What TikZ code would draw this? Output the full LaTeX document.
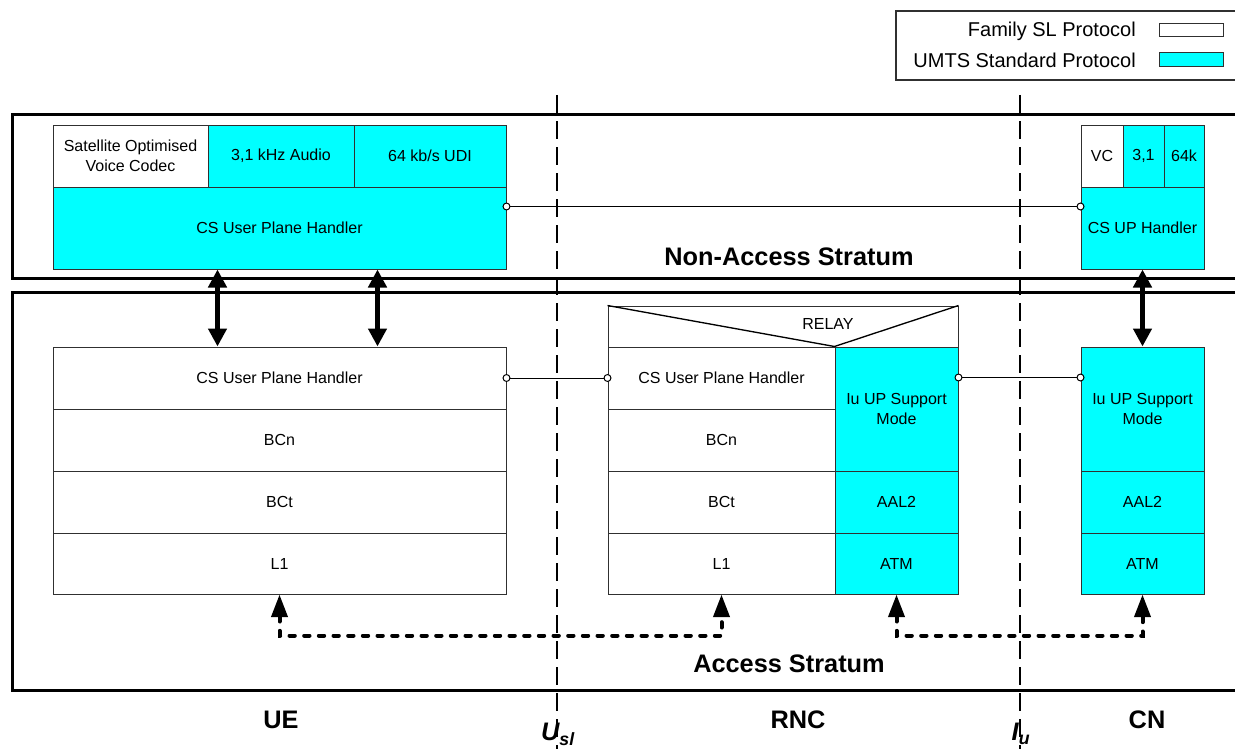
\documentclass[tikz,border=0pt]{standalone}
\usepackage{fontspec}
\setmainfont{Liberation Sans}
\usetikzlibrary{arrows.meta,calc}
\definecolor{umts}{HTML}{00FFFF}
\definecolor{edge}{HTML}{303030}
\newcommand\cell[7]{\node[cellbase,#6,minimum width={(#4-#2)*0.75pt},minimum height={(#5-#3)*0.75pt}] (#1) at ({(#2+#4)/2},{(#3+#5)/2}) {#7};}
\begin{document}
\begin{tikzpicture}[x=0.75pt,y=-0.75pt,
  cellbase/.style={draw=edge,line width=0.75pt,inner sep=0pt,align=center,font=\fontsize{12}{15}\selectfont},
  sl/.style={fill=white},
  std/.style={fill=umts},
  labeltext/.style={inner sep=0pt,font=\fontsize{12}{15}\selectfont},
  legendtext/.style={inner sep=0pt,font=\fontsize{15}{18}\selectfont},
  stratumtext/.style={inner sep=0pt,font=\fontsize{19}{22}\selectfont\bfseries},
  sitetext/.style={inner sep=0pt,font=\fontsize{19}{22}\selectfont\bfseries},
  ifacetext/.style={inner sep=0pt,font=\fontsize{19}{22}\selectfont\bfseries\itshape},
  stratum/.style={draw=black,line width=2.25pt},
  legendbox/.style={draw=edge,line width=0.9pt},
  divider/.style={draw=black,line width=1.5pt,dash pattern=on 13.5pt off 6pt},
  edgeline/.style={draw=black,line width=1pt},
  conn/.style={draw=black,line width=0.75pt},
  port/.style={draw=black,fill=white,line width=0.75pt},
  bigarrow/.style={draw=black,line width=4pt,{Triangle[length=13.5pt,width=13.5pt]}-{Triangle[length=13.5pt,width=13.5pt]}},
  dotarrow/.style={draw=black,line width=3pt,line cap=round,dash pattern=on 4pt off 7pt,{Triangle[length=17pt,width=12pt]}-{Triangle[length=17pt,width=12pt]}}
]
\useasboundingbox (0,0) rectangle (1235,749);
\clip (0,0) rectangle (1235,749);
\fill[white] (0,0) rectangle (1235,749);

% interface dividers
\coordinate (d1t) at (557,95); \coordinate (d1b) at (557,752);
\coordinate (d2t) at (1020,95); \coordinate (d2b) at (1020,752);
\draw[divider] (d1t) -- (d1b);
\draw[divider] (d2t) -- (d2b);

% strata
\draw[stratum] (12,114) rectangle (1260,278);
\draw[stratum] (12,292) rectangle (1260,690);

% legend
\draw[legendbox] (896,11) rectangle (1260,80);
\cell{lgsl}{1159}{24}{1223}{37}{sl}{}
\cell{lgstd}{1159}{53}{1223}{67}{std}{}
\node[legendtext,anchor=east] (lgsltxt) at (1136,31) {Family SL Protocol};
\node[legendtext,anchor=east] (lgstdtxt) at (1136,60) {UMTS Standard Protocol};

% UE non-access stratum
\cell{ueVC}{53}{125}{208}{187}{sl}{Satellite Optimised\\Voice Codec}
\cell{ueAud}{208}{125}{354}{187}{std}{3,1 kHz Audio}
\cell{ueUDI}{354}{125}{506}{187}{std}{64 kb/s UDI}
\cell{ueCSu}{53}{187}{506}{269}{std}{CS User Plane Handler}

% CN non-access stratum
\cell{cnVC}{1081}{125}{1123}{187}{sl}{VC}
\cell{cnAud}{1123}{125}{1164}{187}{std}{3,1}
\cell{cnUDI}{1164}{125}{1204}{187}{std}{64k}
\cell{cnCSu}{1081}{187}{1204}{269}{std}{CS UP Handler}

% UE access stratum
\cell{ueCS}{53}{347}{506}{409}{sl}{CS User Plane Handler}
\cell{ueBCn}{53}{409}{506}{471}{sl}{BCn}
\cell{ueBCt}{53}{471}{506}{533}{sl}{BCt}
\cell{ueL1}{53}{533}{506}{594}{sl}{L1}

% RNC
\cell{relay}{608}{306}{958}{347}{sl}{}
\node[labeltext] (relaytxt) at (828,324) {RELAY};
\cell{rncCS}{608}{347}{835}{409}{sl}{CS User Plane Handler}
\cell{rncBCn}{608}{409}{835}{471}{sl}{BCn}
\cell{rncBCt}{608}{471}{835}{533}{sl}{BCt}
\cell{rncL1}{608}{533}{835}{594}{sl}{L1}
\cell{rncIu}{835}{347}{958}{471}{std}{Iu UP Support\\Mode}
\cell{rncAAL}{835}{471}{958}{533}{std}{AAL2}
\cell{rncATM}{835}{533}{958}{594}{std}{ATM}
\draw[edgeline] (relay.north west) -- (rncIu.north west) -- (relay.north east);

% CN access stratum
\cell{cnIu}{1081}{347}{1204}{471}{std}{Iu UP Support\\Mode}
\cell{cnAAL}{1081}{471}{1204}{533}{std}{AAL2}
\cell{cnATM}{1081}{533}{1204}{594}{std}{ATM}

% peer connectors
\draw[conn] ([yshift=-15pt]ueCSu.north east) -- ([yshift=-15pt]cnCSu.north west);
\draw[port] ([yshift=-15pt]ueCSu.north east) circle[radius=2.6pt];
\draw[port] ([yshift=-15pt]cnCSu.north west) circle[radius=2.6pt];
\draw[conn] (ueCS.east) -- (rncCS.west);
\draw[port] (ueCS.east) circle[radius=2.6pt];
\draw[port] (rncCS.west) circle[radius=2.6pt];
\draw[conn] ([yshift=-23.25pt]rncIu.north east) -- ([yshift=-23.25pt]cnIu.north west);
\draw[port] ([yshift=-23.25pt]rncIu.north east) circle[radius=2.6pt];
\draw[port] ([yshift=-23.25pt]cnIu.north west) circle[radius=2.6pt];

% vertical interlayer arrows
\draw[bigarrow] ([xshift=123.75pt]ueCSu.south west) -- ([xshift=123.75pt]ueCS.north west);
\draw[bigarrow] ([xshift=243.75pt]ueCSu.south west) -- ([xshift=243.75pt]ueCS.north west);
\draw[bigarrow] (cnCSu.south) -- (cnIu.north);

% dotted physical links
\draw[dotarrow] (ueL1.south) -- ++(0,41) -| (rncL1.south);
\draw[dotarrow] (rncATM.south) -- ++(0,41) -| (cnATM.south);

% labels
\node[stratumtext] (nas) at (789,257) {Non-Access Stratum};
\node[stratumtext] (as) at (789,664) {Access Stratum};
\node[sitetext] (ue) at (281,720) {UE};
\node[sitetext] (rnc) at (798,720) {RNC};
\node[sitetext] (cn) at (1147,720) {CN};
\node[ifacetext] (usl) at (558,734) {U\textsubscript{sl}};
\node[ifacetext] (iu) at (1021,734) {I\textsubscript{u}};
\end{tikzpicture}
\end{document}
